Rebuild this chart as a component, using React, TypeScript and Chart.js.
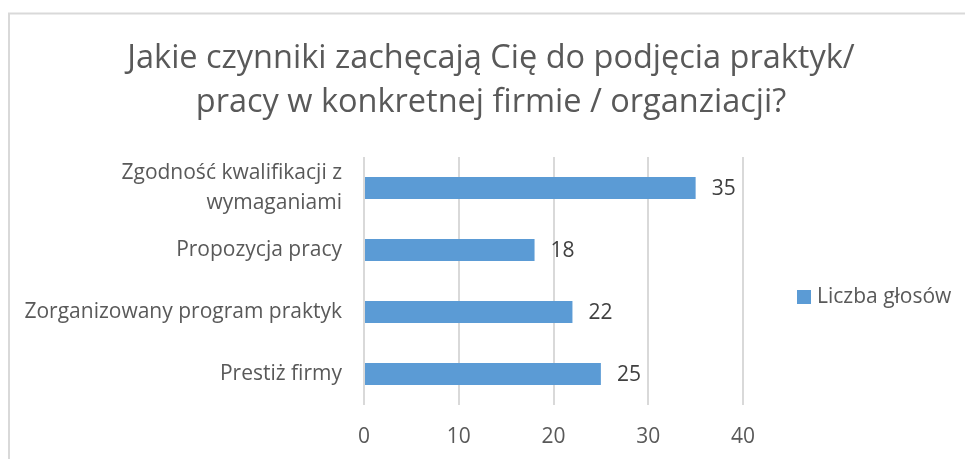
import React, { useEffect, useRef } from "react";
import { Chart, registerables } from "chart.js";

Chart.register(...registerables);

const titleLines = [
  "Jakie czynniki zachęcają Cię do podjęcia praktyk/",
  "pracy w konkretnej firmie / organziacji?",
];
const categories: (string | string[])[] = [
  ["Zgodność kwalifikacji z", "wymaganiami"],
  "Propozycja pracy",
  "Zorganizowany program praktyk",
  "Prestiż firmy",
];
const seriesName = "Liczba głosów";
const votes = [35, 18, 22, 25];
const xTicks = { min: 0, max: 40, step: 10 };

const FONT = "'Open Sans', 'Noto Sans', sans-serif";
const BLUE = "#5b9bd5";
const GRID = "#d9d9d9";
const TEXT = "#595959";

const decorPlugin = {
  id: "decor",
  beforeDraw(chart: any) {
    const ctx = chart.ctx;
    ctx.save();
    ctx.strokeStyle = GRID;
    ctx.lineWidth = 2;
    ctx.beginPath();
    ctx.moveTo(9, chart.height + 5);
    ctx.lineTo(9, 13.5);
    ctx.lineTo(chart.width + 5, 13.5);
    ctx.stroke();
    ctx.restore();
  },
  afterDraw(chart: any) {
    const ctx = chart.ctx;
    ctx.save();
    // title
    ctx.fillStyle = TEXT;
    ctx.textAlign = "center";
    ctx.textBaseline = "alphabetic";
    ctx.font = `32.5px ${FONT}`;
    ctx.fillText(titleLines[0], 491, 68);
    ctx.fillText(titleLines[1], 491, 112);
    // data labels
    const meta = chart.getDatasetMeta(0);
    ctx.font = `21px ${FONT}`;
    ctx.fillStyle = "#404040";
    ctx.textAlign = "left";
    ctx.textBaseline = "middle";
    meta.data.forEach((bar: any, i: number) => {
      ctx.fillText(String(chart.data.datasets[0].data[i]), bar.x + 16, bar.y + 1);
    });
    // legend
    const ly = (chart.chartArea.top + chart.chartArea.bottom) / 2 + 16;
    ctx.fillStyle = BLUE;
    ctx.fillRect(797, ly - 7, 14, 14);
    ctx.fillStyle = TEXT;
    ctx.font = `21px ${FONT}`;
    ctx.fillText(chart.data.datasets[0].label, 817, ly);
    ctx.restore();
  },
};

export default function App() {
  const ref = useRef<HTMLCanvasElement>(null);
  useEffect(() => {
    if (!ref.current) return;
    const chart = new Chart(ref.current, {
      type: "bar",
      data: {
        labels: categories,
        datasets: [
          {
            label: seriesName,
            data: votes,
            backgroundColor: BLUE,
            barPercentage: 0.355,
            categoryPercentage: 1,
          },
        ],
      },
      options: {
        indexAxis: "y",
        animation: false,
        responsive: false,
        maintainAspectRatio: false,
        layout: { padding: { top: 157, right: 222, left: 0, bottom: 0 } },
        plugins: {
          legend: { display: false },
          title: { display: false },
          tooltip: { enabled: false },
        },
        scales: {
          x: {
            min: xTicks.min,
            max: xTicks.max,
            ticks: {
              stepSize: xTicks.step,
              color: TEXT,
              font: { family: FONT, size: 21 },
              padding: 19,
            },
            grid: { color: GRID, lineWidth: 2, drawTicks: false },
            border: { display: false },
            afterFit: (s: any) => {
              s.height = 54;
            },
          },
          y: {
            ticks: {
              autoSkip: false,
              color: TEXT,
              font: { family: FONT, size: 21, lineHeight: 1.43 },
              padding: 22,
            },
            grid: { display: false, drawTicks: false },
            border: { display: false },
            afterFit: (s: any) => {
              s.width = 364;
            },
          },
        },
      },
      plugins: [decorPlugin],
    });
    return () => chart.destroy();
  }, []);
  return (
    <div style={{ position: "fixed", left: 0, top: 0, width: 965, height: 459, background: "#fff" }}>
      <canvas ref={ref} width={965} height={459} style={{ display: "block" }} />
    </div>
  );
}
